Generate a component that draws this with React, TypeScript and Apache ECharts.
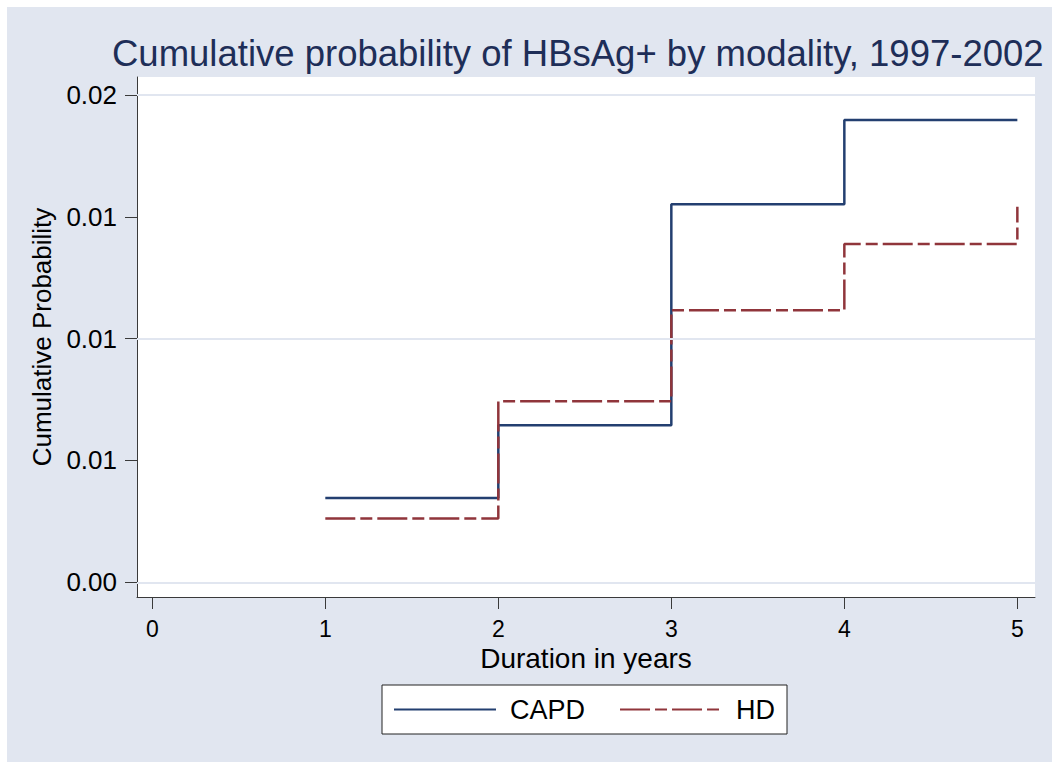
import React, { useEffect, useRef } from "react";
import * as echarts from "echarts";

const years = [1, 2, 3, 4, 5];
const capd = [0.00346, 0.00645, 0.01552, 0.01897, 0.01897];
const hd = [0.00262, 0.00743, 0.01117, 0.01389, 0.01541];
const xTicks = [0, 1, 2, 3, 4, 5];
const yTicks = [0, 0.005, 0.01, 0.015, 0.02];
const seriesNames = ["CAPD", "HD"];

const FONT = "'Liberation Sans', Arial, Helvetica, sans-serif";
const BG = "#E1E6F0";

export default function App() {
  const ref = useRef<HTMLDivElement>(null);
  useEffect(() => {
    if (!ref.current) return;
    const chart = echarts.init(ref.current, undefined, { renderer: "svg" });
    chart.setOption({
      animation: false,
      backgroundColor: "#ffffff",
      textStyle: { fontFamily: FONT },
      graphic: [
        {
          type: "rect",
          z: -10,
          silent: true,
          shape: { x: 7, y: 7, width: 1052, height: 762 },
          style: { fill: BG },
        },
      ],
      title: {
        text: "Cumulative probability of HBsAg+ by modality, 1997-2002",
        left: 112,
        top: 35,
        padding: 0,
        textStyle: { fontFamily: FONT, fontSize: 36.5, fontWeight: "normal", color: "#1E2E58" },
      },
      legend: {
        data: seriesNames,
        left: 382,
        top: 685,
        orient: "horizontal",
        backgroundColor: "#ffffff",
        borderColor: "#222222",
        borderWidth: 1,
        borderRadius: 0,
        padding: [11, 12, 11, 11],
        itemWidth: 102,
        itemHeight: 20,
        itemGap: 34,
        itemStyle: { opacity: 0 },
        textStyle: { fontFamily: FONT, fontSize: 27, color: "#000000", padding: [0, 0, 0, 9] },
      },
      grid: {
        left: 137,
        right: 17,
        top: 77,
        bottom: 165,
        show: true,
        backgroundColor: "#ffffff",
        borderWidth: 0,
        containLabel: false,
      },
      xAxis: {
        type: "value",
        min: -0.0884,
        max: 5.102,
        name: "Duration in years",
        nameLocation: "middle",
        nameGap: 41,
        nameTextStyle: { fontFamily: FONT, fontSize: 28, color: "#000000" },
        axisLine: { show: true, onZero: false, lineStyle: { color: "#3a3a3a", width: 1 } },
        axisTick: { show: true, length: 12, customValues: xTicks, lineStyle: { color: "#3a3a3a", width: 1 } },
        axisLabel: {
          customValues: xTicks,
          margin: 20,
          fontFamily: FONT,
          fontSize: 23,
          color: "#000000",
          formatter: (v: number) => String(Math.round(v)),
        },
        splitLine: { show: false },
      },
      yAxis: {
        type: "value",
        min: -0.000603,
        max: 0.020739,
        name: "Cumulative Probability",
        nameLocation: "middle",
        nameGap: 77,
        nameTextStyle: { fontFamily: FONT, fontSize: 26, color: "#000000" },
        axisLine: { show: true, onZero: false, lineStyle: { color: "#3a3a3a", width: 1 } },
        axisTick: { show: true, length: 12, customValues: yTicks, lineStyle: { color: "#3a3a3a", width: 1 } },
        axisLabel: {
          customValues: yTicks,
          margin: 20,
          fontFamily: FONT,
          fontSize: 26,
          color: "#000000",
          formatter: (v: number) => v.toFixed(2),
        },
        splitLine: { show: false },
      },
      series: [
        {
          name: "grid",
          type: "line",
          data: [],
          z: 1,
          silent: true,
          markLine: {
            silent: true,
            symbol: ["none", "none"],
            label: { show: false },
            lineStyle: { type: "solid", color: BG, width: 2 },
            data: yTicks.map((v) => ({ yAxis: v })),
          },
        },
        {
          name: seriesNames[0],
          type: "line",
          step: "end",
          z: 3,
          symbol: "none",
          showSymbol: false,
          color: "#233F70",
          lineStyle: { color: "#233F70", width: 2.5, type: "solid" },
          data: years.map((x, i) => [x, capd[i]]),
        },
        {
          name: seriesNames[1],
          type: "line",
          step: "end",
          z: 4,
          symbol: "none",
          showSymbol: false,
          color: "#90353B",
          lineStyle: { color: "#90353B", width: 2.5, type: [30, 5, 12, 5] },
          data: years.map((x, i) => [x, hd[i]]),
        },
      ],
    });
    return () => chart.dispose();
  }, []);
  return (
    <div
      ref={ref}
      style={{ position: "absolute", left: 0, top: 0, width: 1052, height: 762 }}
    />
  );
}
